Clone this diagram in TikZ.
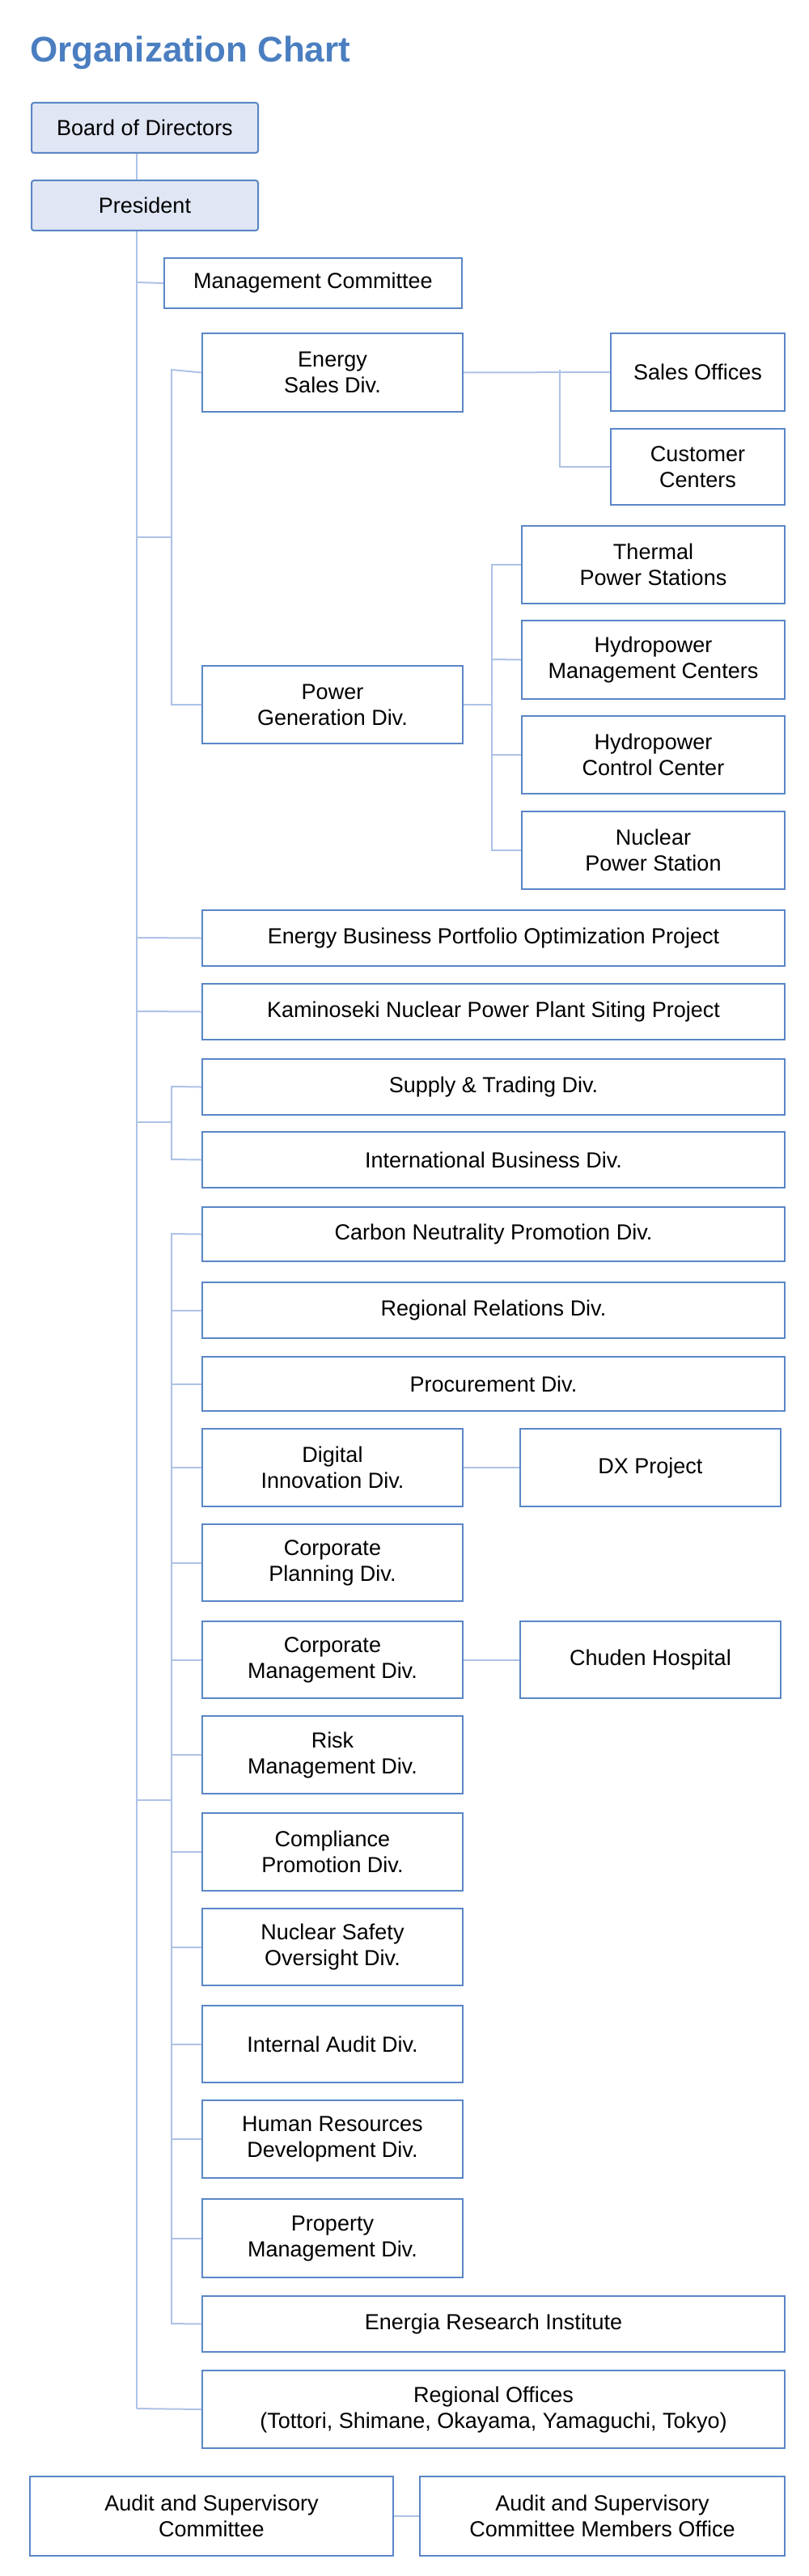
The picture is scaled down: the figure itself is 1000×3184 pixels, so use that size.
\documentclass[tikz,border=0pt]{standalone}
\usepackage{fontspec}
\setmainfont{Liberation Sans}
\definecolor{bord}{HTML}{5A86C6}
\definecolor{lin}{HTML}{AEC2E6}
\definecolor{tit}{HTML}{4A7EC0}
\definecolor{topfill}{HTML}{E0E6F4}
\newcommand{\bx}[7][]{%
  \node[box,#1,minimum width={(#5)-(#3)},minimum height={(#6)-(#4)}] (#2) at ({((#3)+(#5))/2},{((#4)+(#6))/2}) {#7};}
\tikzset{box/.style={draw=bord,line width=2pt,fill=white,align=center,inner sep=0pt,font=\fontsize{27}{32}\selectfont},
  top/.style={fill=topfill,rounded corners=3pt},
  con/.style={draw=lin,line width=2pt}}
\begin{document}
\begin{tikzpicture}[x=1pt,y=-1pt]
\useasboundingbox (0,0) rectangle (1000,3184);
\node[anchor=base west,inner sep=0pt,text=tit,font=\bfseries\fontsize{44}{50}\selectfont] (title) at (37,77) {Organization Chart};
% trunk
\coordinate (t0) at (169,189);
\coordinate (t1) at (169,2977);
\draw[con] (t0) -- (t1);
\bx[top]{bod}{39}{127}{319}{189}{Board of Directors}
\bx[top]{pres}{39}{223}{319}{285}{President}
\bx{mc}{203}{319}{571}{381}{Management Committee}
\bx{es}{250}{412}{572}{509}{Energy\\Sales Div.}
\bx{so}{755}{412}{970}{508}{Sales Offices}
\bx{cc}{755}{530}{970}{624}{Customer\\Centers}
\bx{pg}{250}{823}{572}{919}{Power\\Generation Div.}
\bx{th}{645}{650}{970}{746}{Thermal\\Power Stations}
\bx{hm}{645}{767}{970}{864}{Hydropower\\Management Centers}
\bx{hc}{645}{885}{970}{981}{Hydropower\\Control Center}
\bx{np}{645}{1003}{970}{1099}{Nuclear\\Power Station}
\bx{eb}{250}{1125}{970}{1194}{Energy Business Portfolio Optimization Project}
\bx{kn}{250}{1216}{970}{1285}{Kaminoseki Nuclear Power Plant Siting Project}
\bx{st}{250}{1309}{970}{1378}{Supply \& Trading Div.}
\bx{ib}{250}{1399}{970}{1468}{International Business Div.}
\bx{cn}{250}{1492}{970}{1559}{Carbon Neutrality Promotion Div.}
\bx{rr}{250}{1585}{970}{1654}{Regional Relations Div.}
\bx{pr}{250}{1677}{970}{1744}{Procurement Div.}
\bx{di}{250}{1766}{572}{1862}{Digital\\Innovation Div.}
\bx{dx}{643}{1766}{965}{1862}{DX Project}
\bx{cp}{250}{1884}{572}{1979}{Corporate\\Planning Div.}
\bx{cm}{250}{2004}{572}{2099}{Corporate\\Management Div.}
\bx{ch}{643}{2004}{965}{2099}{Chuden Hospital}
\bx{rm}{250}{2121}{572}{2217}{Risk\\Management Div.}
\bx{co}{250}{2241}{572}{2337}{Compliance\\Promotion Div.}
\bx{ns}{250}{2359}{572}{2454}{Nuclear Safety\\Oversight Div.}
\bx{ia}{250}{2479}{572}{2574}{Internal Audit Div.}
\bx{hr}{250}{2596}{572}{2692}{Human Resources\\Development Div.}
\bx{pm}{250}{2718}{572}{2815}{Property\\Management Div.}
\bx{er}{250}{2838}{970}{2907}{Energia Research Institute}
\bx{ro}{250}{2930}{970}{3026}{Regional Offices\\(Tottori, Shimane, Okayama, Yamaguchi, Tokyo)}
\bx{as}{37}{3061}{486}{3159}{Audit and Supervisory\\Committee}
\bx{am}{519}{3061}{970}{3159}{Audit and Supervisory\\Committee Members Office}
% connectors
\begin{scope}[on background layer/.style={}]
\draw[con] (bod.south -| t0) -- (pres.north -| t0);
\draw[con] (169,349) -- (mc.west);
% energy/power bracket
\draw[con] (169,664) -- (212,664);
\draw[con] (es.west) -- (212,457) -- (212,871) -- (pg.west);
\draw[con] (es.east) -- (so.west);
\draw[con] (692,457) -- (692,577) -- (cc.west);
\draw[con] (pg.east) -- (608,871);
\draw[con] (th.west) -- (608,698) -- (608,1051) -- (np.west);
\draw[con] (hm.west) -- (608,815);
\draw[con] (hc.west) -- (608,933);
\draw[con] (169,1159) -- (eb.west);
\draw[con] (169,1250) -- (kn.west);
\draw[con] (169,1387) -- (212,1387);
\draw[con] (st.west) -- (212,1343) -- (212,1433) -- (ib.west);
\draw[con] (169,2225) -- (212,2225);
\draw[con] (cn.west) -- (212,1525) -- (212,2872) -- (er.west);
\foreach \n in {rr,pr,di,cp,cm,rm,co,ns,ia,hr,pm} {\draw[con] (\n.west) -- (\n.west -| 212,0);}
\draw[con] (di.east) -- (dx.west);
\draw[con] (cm.east) -- (ch.west);
\draw[con] (t1) -- (ro.west);
\draw[con] (as.east) -- (am.west);
\end{scope}
\end{tikzpicture}
\end{document}
